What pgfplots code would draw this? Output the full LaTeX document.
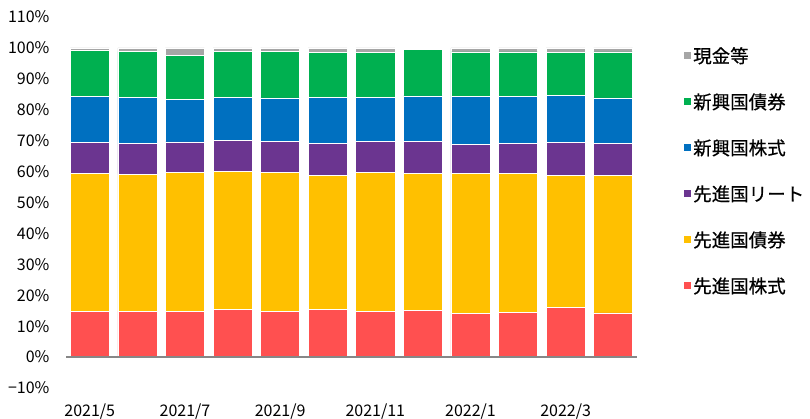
\documentclass[border=0pt]{standalone}
\usepackage{pgfplots}
\pgfplotsset{compat=1.18}
\usepackage{fontspec}
\setmainfont{Noto Sans CJK JP}
\newfontfamily\legfont{Noto Sans CJK JP}[FakeBold=0.5]
\definecolor{cRed}{HTML}{FF5050}
\definecolor{cYel}{HTML}{FFC000}
\definecolor{cPur}{HTML}{6B3590}
\definecolor{cBlu}{HTML}{0070C0}
\definecolor{cGrn}{HTML}{00B050}
\definecolor{cGry}{HTML}{A6A6A6}
\begin{document}
\begin{tikzpicture}
\begin{axis}[
  at={(66bp,31bp)}, anchor=south west,
  scale only axis, width=571bp, height=371bp,
  ybar stacked, bar width=0.82,
  xmin=-0.5, xmax=11.5, ymin=-10, ymax=110,
  xtick={0,2,4,6,8,10},
  xticklabels={2021/5,2021/7,2021/9,2021/11,2022/1,2022/3},
  ytick={-10,0,10,20,30,40,50,60,70,80,90,100,110},
  yticklabels={−10\%,0\%,10\%,20\%,30\%,40\%,50\%,60\%,70\%,80\%,90\%,100\%,110\%},
  axis line style={draw=none},
  major tick length=0pt,
  tick label style={font=\fontsize{16bp}{18bp}\selectfont, text=black},
  yticklabel style={anchor=east, xshift=-13bp},
  xticklabel style={anchor=north, yshift=-12bp},
  reverse legend,
  legend cell align=left,
  legend style={draw=none, fill=none, at={(axis description cs:1,1)}, anchor=north west,
    xshift=47bp, yshift=-28bp, row sep=25bp,
    font=\legfont\fontsize{18.5bp}{20bp}\selectfont, inner sep=0pt},
  legend image code/.code={\path[#1,draw=none] (0bp,-3.5bp) rectangle (7bp,3.5bp);},
  every axis plot/.append style={draw=white, line width=0.6bp},
]
\addplot[fill=cRed] coordinates {(0,14.9) (1,14.9) (2,14.8) (3,15.4) (4,14.7) (5,15.3) (6,14.7) (7,15.2) (8,14.1) (9,14.5) (10,16.1) (11,14.3)};
\addplot[fill=cYel] coordinates {(0,44.4) (1,44.2) (2,45.0) (3,44.7) (4,45.1) (5,43.5) (6,45.1) (7,44.1) (8,45.3) (9,44.9) (10,42.6) (11,44.5)};
\addplot[fill=cPur] coordinates {(0,10.1) (1,9.9) (2,9.8) (3,10.1) (4,9.9) (5,10.3) (6,9.9) (7,10.4) (8,9.5) (9,9.6) (10,10.8) (11,10.3)};
\addplot[fill=cBlu] coordinates {(0,15.0) (1,15.0) (2,13.8) (3,13.9) (4,14.1) (5,14.9) (6,14.3) (7,14.8) (8,15.3) (9,15.4) (10,15.2) (11,14.7)};
\addplot[fill=cGrn] coordinates {(0,14.9) (1,14.9) (2,14.3) (3,14.9) (4,15.1) (5,14.6) (6,14.6) (7,14.9) (8,14.5) (9,14.3) (10,13.9) (11,14.9)};
\addplot[fill=cGry] coordinates {(0,0.7) (1,1.1) (2,2.3) (3,1.0) (4,1.1) (5,1.4) (6,1.4) (7,0.0) (8,1.3) (9,1.3) (10,1.4) (11,1.3)};
\legend{先進国株式,先進国債券,先進国リート,新興国株式,新興国債券,現金等}
\coordinate (z0) at (axis cs:-0.5,0);
\coordinate (z1) at (axis cs:11.5,0);
\end{axis}
\draw[color=black!47, line width=1.8bp] (z0) -- (z1);
\pgfresetboundingbox
\useasboundingbox (0,0) rectangle (810bp,419bp);
\end{tikzpicture}
\end{document}
